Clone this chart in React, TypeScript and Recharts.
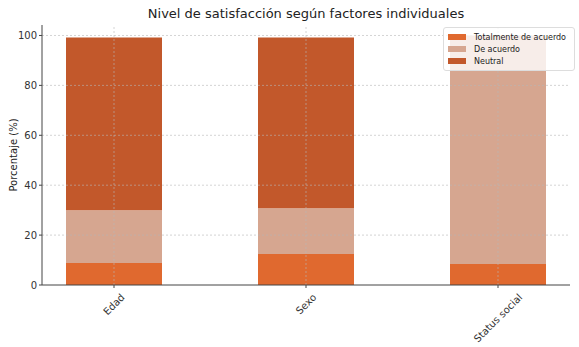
import { BarChart, Bar, XAxis, YAxis, ReferenceLine, Label } from "recharts";

const categories = ["Edad", "Sexo", "Status social"];
const totalmenteDeAcuerdo = [8.8, 12.4, 8.4];
const deAcuerdo = [21.2, 18.4, 91.6];
const neutral = [69.2, 68.4, 0];
const yTicks = [0, 20, 40, 60, 80, 100];
const xTicks = [0, 1, 2];

const data = categories.map((name, i) => ({
  pos: xTicks[i],
  name,
  totalmente: totalmenteDeAcuerdo[i],
  deAcuerdo: deAcuerdo[i],
  neutral: neutral[i],
}));

const series = [
  { key: "totalmente", label: "Totalmente de acuerdo", color: "#e0692f" },
  { key: "deAcuerdo", label: "De acuerdo", color: "#d6a690" },
  { key: "neutral", label: "Neutral", color: "#c2582b" },
];

const FONT = "'DejaVu Sans', sans-serif";
const GRID = { stroke: "#b8b8b8", strokeOpacity: 0.6, strokeDasharray: "2 2" };

let ctx: CanvasRenderingContext2D | null = null;
function textWidth(s: string, size: number) {
  if (!ctx) ctx = document.createElement("canvas").getContext("2d");
  if (!ctx) return s.length * size * 0.6;
  ctx.font = `${size}px 'DejaVu Sans'`;
  return ctx.measureText(s).width;
}

function RotatedTick({ x, y, payload }: any) {
  const label = categories[payload.value] ?? "";
  const fs = 10;
  const w = textWidth(label, fs);
  const half = ((w + fs) * 0.7071) / 2;
  const cy = y + 2 + half;
  return (
    <text x={x} y={cy} transform={`rotate(-45 ${x} ${cy})`} textAnchor="middle" dominantBaseline="central"
      fontSize={fs} fill="#333" fontFamily={FONT}>
      {label}
    </text>
  );
}

function LegendBox() {
  return (
    <div style={{ position: "absolute", right: 4, top: 27, background: "rgba(255,255,255,0.8)", border: "1px solid #dddddd", borderRadius: 3, padding: "3px 8px 3px 4px", fontFamily: FONT, fontSize: 8, color: "#222" }}>
      {series.map((s) => (
        <div key={s.key} style={{ display: "flex", alignItems: "center", height: 12 }}>
          <span style={{ width: 18, height: 6, background: s.color, marginRight: 8, display: "inline-block" }} />
          <span>{s.label}</span>
        </div>
      ))}
    </div>
  );
}

export default function App() {
  return (
    <div style={{ position: "fixed", left: 0, top: 0, width: 579, height: 347, background: "white" }}>
      <div style={{ position: "absolute", left: 42, width: 528, top: 6, textAlign: "center", fontFamily: FONT, fontSize: 13, color: "#222" }}>
        Nivel de satisfacción según factores individuales
      </div>
      <BarChart width={579} height={347} data={data} margin={{ top: 25, right: 9, bottom: 32, left: 0 }}>
        {series.map((s) => (
          <Bar key={s.key} dataKey={s.key} stackId="a" fill={s.color} barSize={96} isAnimationActive={false} />
        ))}
        <XAxis dataKey="pos" type="number" domain={[-0.375, 2.375]} ticks={xTicks} tick={<RotatedTick />}
          stroke="#444" tickSize={3} interval={0} height={30} />
        <YAxis domain={[0, 104.2]} ticks={yTicks} width={42} stroke="#444" tickSize={3}
          tick={{ fontSize: 10, fill: "#333", fontFamily: FONT }}>
          <Label value="Porcentaje (%)" angle={-90} position="insideLeft" offset={13}
            style={{ fontSize: 10, fill: "#222", fontFamily: FONT, textAnchor: "middle" }} />
        </YAxis>
        {yTicks.filter((t) => t > 0).map((t) => (
          <ReferenceLine key={`y${t}`} y={t} {...GRID} />
        ))}
        {xTicks.map((t) => (
          <ReferenceLine key={`x${t}`} x={t} {...GRID} />
        ))}
      </BarChart>
      <LegendBox />
    </div>
  );
}
